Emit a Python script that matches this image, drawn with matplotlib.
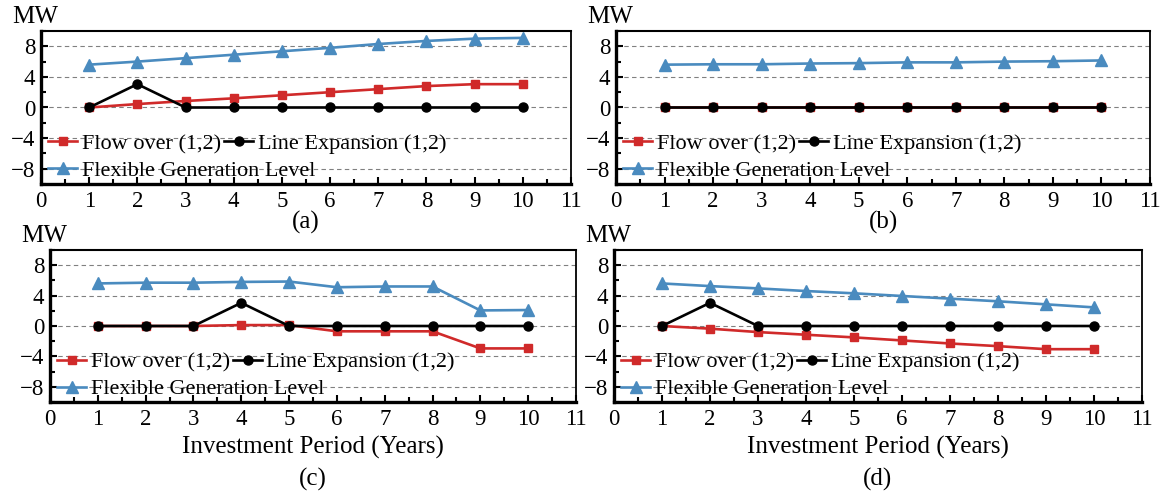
import matplotlib
matplotlib.use("Agg")
import matplotlib.pyplot as plt
import numpy as np
from matplotlib.ticker import MultipleLocator

plt.rcParams['font.family'] = ['Liberation Serif', 'DejaVu Serif']

# ---- data
years = [1, 2, 3, 4, 5, 6, 7, 8, 9, 10]

flow_a = [0, 0.45, 0.85, 1.2, 1.6, 2.0, 2.4, 2.8, 3.05, 3.05]
expan_a = [0, 3.05, 0, 0, 0, 0, 0, 0, 0, 0]
flex_a = [5.6, 6.0, 6.45, 6.9, 7.35, 7.8, 8.3, 8.7, 9.0, 9.1]

flow_b = [0, 0, 0, 0, 0, 0, 0, 0, 0, 0]
expan_b = [0, 0, 0, 0, 0, 0, 0, 0, 0, 0]
flex_b = [5.6, 5.65, 5.65, 5.75, 5.8, 5.9, 5.9, 6.0, 6.05, 6.15]

flow_c = [0, 0, 0, 0.12, 0.12, -0.7, -0.7, -0.7, -2.95, -2.95]
expan_c = [0, 0, 0, 3.05, 0, 0, 0, 0, 0, 0]
flex_c = [5.6, 5.7, 5.7, 5.8, 5.85, 5.1, 5.2, 5.2, 2.05, 2.1]

flow_d = [0, -0.35, -0.8, -1.15, -1.5, -1.9, -2.3, -2.65, -3.05, -3.05]
expan_d = [0, 3.05, 0, 0, 0, 0, 0, 0, 0, 0]
flex_d = [5.6, 5.25, 4.95, 4.6, 4.3, 3.95, 3.6, 3.25, 2.85, 2.45]

panels = [
    ("(a)", flow_a, expan_a, flex_a),
    ("(b)", flow_b, expan_b, flex_b),
    ("(c)", flow_c, expan_c, flex_c),
    ("(d)", flow_d, expan_d, flex_d),
]

W, H = 1166, 494
# axes boxes in pixels: left, right, top, bottom
boxes = [(41, 571, 31, 184), (616, 1150, 31, 184),
         (50, 576, 250, 402), (614, 1142, 250, 402)]

red = '#d02a2a'
blue = '#4a8bbf'

fig = plt.figure(figsize=(W / 100, H / 100), dpi=100)

leg_kw = dict(frameon=False, fontsize=16, borderpad=0, borderaxespad=0,
              handlelength=1.3, handletextpad=0.2, columnspacing=0.15)

for i, (tag, flow, expan, flex) in enumerate(panels):
    l, r, t, b = boxes[i]
    ax = fig.add_axes([l / W, 1 - b / H, (r - l) / W, (b - t) / H])

    h1, = ax.plot(years, flow, color=red, marker='s', ms=5.5, lw=1.9,
                  label='Flow over (1,2)')
    h2, = ax.plot(years, expan, color='black', marker='o', ms=6.5, lw=1.9,
                  label='Line Expansion (1,2)')
    h3, = ax.plot(years, flex, color=blue, marker='^', ms=8, lw=1.9,
                  label='Flexible Generation Level')

    ax.set_xlim(0, 11)
    ax.set_ylim(-10, 10)
    ax.xaxis.set_major_locator(MultipleLocator(1))
    ax.xaxis.set_minor_locator(MultipleLocator(0.5))
    ax.yaxis.set_minor_locator(MultipleLocator(2))
    ax.set_yticks([-8, -4, 0, 4, 8])
    ax.tick_params(which='major', direction='in', length=5, width=1.5,
                   labelsize=16.5, pad=4)
    ax.tick_params(which='minor', direction='in', length=3.5, width=1.5)
    ax.tick_params(axis='x', pad=5)

    ax.grid(axis='y', which='major', color='#808080', ls=(0, (4, 3)), lw=0.8)
    ax.set_axisbelow(True)

    ax.spines['left'].set_linewidth(2.4)
    ax.spines['bottom'].set_linewidth(2.4)
    ax.spines['top'].set_linewidth(1.5)
    ax.spines['right'].set_linewidth(1.3)

    # first row: flow + expansion, second row: flexible generation
    leg1 = ax.legend([h1, h2], [h1.get_label(), h2.get_label()], ncol=2,
                     loc='center left', bbox_to_anchor=(0.014, 0.262), **leg_kw)
    ax.add_artist(leg1)
    ax.legend([h3], [h3.get_label()], loc='center left',
              bbox_to_anchor=(0.014, 0.085), **leg_kw)

    fig.text((l - 29) / W, 1 - (t - 3) / H, 'MW', fontsize=18,
             ha='left', va='bottom')

    cx = (l + r) / 2 / W
    if i < 2:
        fig.text(cx, 1 - 222 / H, tag, fontsize=18, ha='center', va='center')
    else:
        fig.text(cx, 1 - 447 / H, 'Investment Period (Years)', fontsize=18,
                 ha='center', va='center')
        fig.text(cx, 1 - 479 / H, tag, fontsize=18, ha='center', va='center')

fig.savefig('out.png', dpi=100)
